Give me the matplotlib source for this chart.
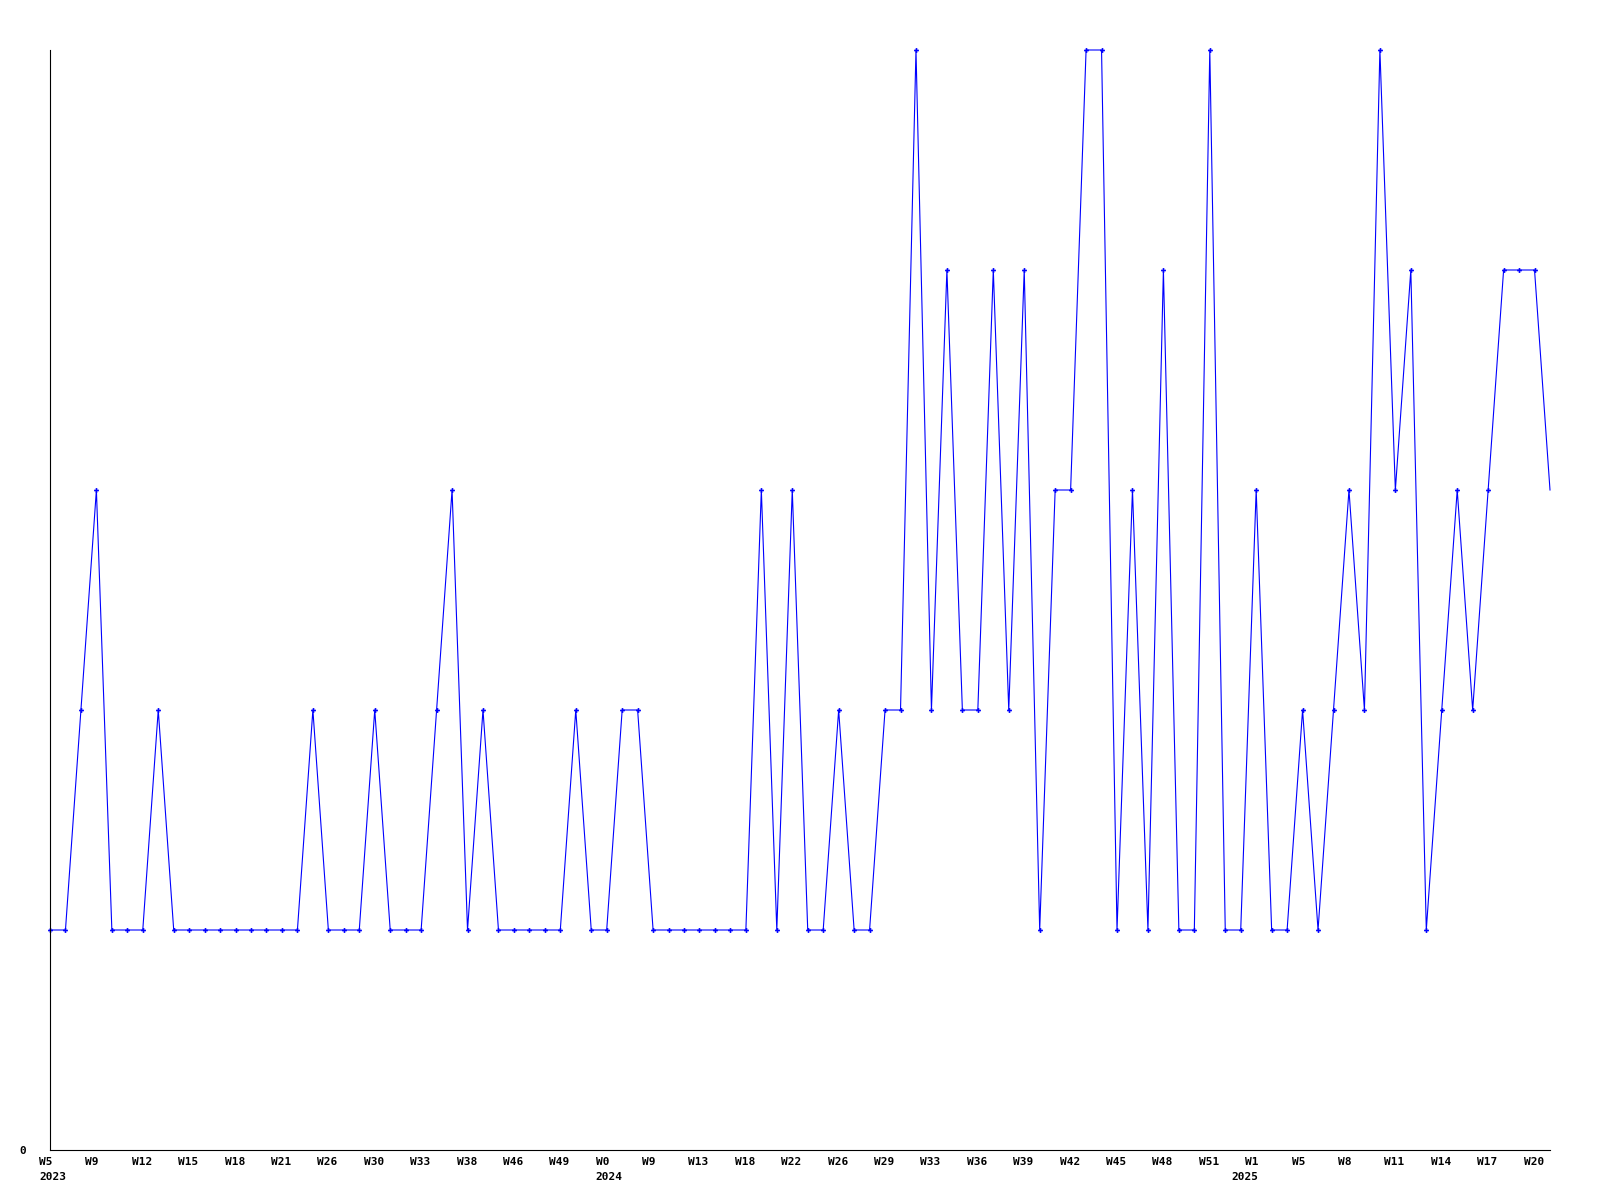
import numpy as np
import matplotlib.pyplot as plt
from matplotlib.transforms import ScaledTranslation, blended_transform_factory

# weekly counts, one value per week
values = [1, 1, 2, 3, 1, 1, 1, 2, 1, 1,
          1, 1, 1, 1, 1, 1, 1, 2, 1, 1,
          1, 2, 1, 1, 1, 2, 3, 1, 2, 1,
          1, 1, 1, 1, 2, 1, 1, 2, 2, 1,
          1, 1, 1, 1, 1, 1, 3, 1, 3, 1,
          1, 2, 1, 1, 2, 2, 5, 2, 4, 2,
          2, 4, 2, 4, 1, 3, 3, 5, 5, 1,
          3, 1, 4, 1, 1, 5, 1, 1, 3, 1,
          1, 2, 1, 2, 3, 2, 5, 3, 4, 1,
          2, 3, 2, 3, 4, 4, 4, 3]

# one label every third week
week_labels = ["W5", "W9", "W12", "W15", "W18", "W21", "W26", "W30", "W33",
               "W38", "W46", "W49", "W0", "W9", "W13", "W18", "W22", "W26",
               "W29", "W33", "W36", "W39", "W42", "W45", "W48", "W51", "W1",
               "W5", "W8", "W11", "W14", "W17", "W20"]
years = ["2023", "2024", "2025"]
year_pos = [0, 36, 78]

x = np.arange(len(values))

fig = plt.figure(figsize=(16, 12), dpi=100)
ax = fig.add_axes([50 / 1600, 50 / 1200, 1500 / 1600, 1100 / 1200])

# the last (unfinished) week has no marker
ax.plot(x, values, color="#0000ff", linewidth=0.8, marker="P",
        markersize=3.5, markeredgewidth=0, clip_on=False,
        markevery=list(range(len(values) - 1)))

ax.set_xlim(0, len(values) - 1)
ax.set_ylim(0, 5)

for s in ["top", "right"]:
    ax.spines[s].set_visible(False)
for s in ["left", "bottom"]:
    ax.spines[s].set_color("black")
    ax.spines[s].set_linewidth(0.8)

font = dict(family="DejaVu Sans Mono", size=8, weight="bold")

ax.set_yticks([0])
ax.set_yticklabels(["0"], **font)
ax.tick_params(axis="y", length=0, pad=17)

ax.set_xticks(x[::3])
ax.set_xticklabels(week_labels, ha="left", **font)
ax.tick_params(axis="x", length=0, pad=5)
shift = ScaledTranslation(-11 / 100, 0, fig.dpi_scale_trans)
for lab in ax.get_xticklabels():
    lab.set_transform(lab.get_transform() + shift)

# year labels under the first week of each year
trans = blended_transform_factory(ax.transData, ax.transAxes)
for yr, p in zip(years, year_pos):
    if yr == "2025":
        off = ScaledTranslation(2 / 100, -22 / 100, fig.dpi_scale_trans)
        ax.text(p, 0, yr, transform=trans + off, ha="right", va="top", **font)
    else:
        off = ScaledTranslation(-11 / 100, -22 / 100, fig.dpi_scale_trans)
        ax.text(p, 0, yr, transform=trans + off, ha="left", va="top", **font)

fig.savefig("out.png", dpi=100)
